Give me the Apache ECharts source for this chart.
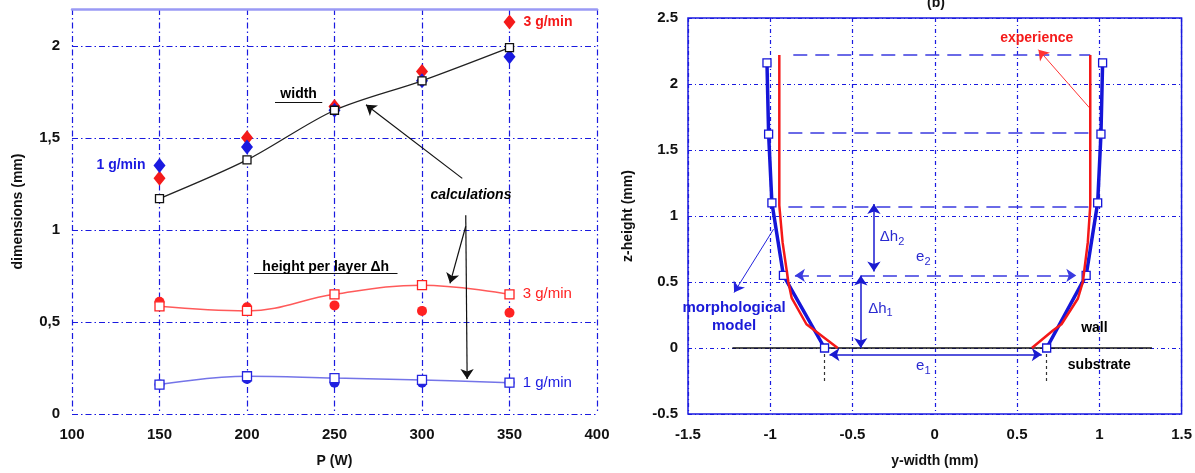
<!DOCTYPE html>
<html>
<head>
<meta charset="utf-8">
<script src="https://cdn.jsdelivr.net/npm/echarts@6/dist/echarts.min.js"></script>
<style>
  html, body { margin: 0; padding: 0; background: #fff; }
  #chart { width: 1195px; height: 473px; }
</style>
</head>
<body>
<div id="chart"></div>
<script>
// left panel: dimensions vs laser power
const powers = [150, 200, 250, 300, 350];
const widthCalc = [1.17, 1.38, 1.65, 1.81, 1.99];
const widthExp3 = [1.28, 1.50, 1.67, 1.86, 2.13];
const widthExp1 = [1.35, 1.45, 1.65, 1.81, 1.94];
const heightCalc3 = [0.585, 0.56, 0.65, 0.70, 0.65];
const heightExp3 = [0.61, 0.58, 0.59, 0.56, 0.55];
const heightCalc1 = [0.16, 0.205, 0.195, 0.185, 0.17];
const heightExp1 = [0.16, 0.19, 0.17, 0.17, 0.17];

// right panel: wall profile (y-width, z-height)
const modelZ = [0, 0.55, 1.10, 1.62, 2.16];
const modelLeftY = [-0.67, -0.92, -0.99, -1.01, -1.02];
const modelRightY = [0.68, 0.92, 0.99, 1.01, 1.02];
const expLeftZ = [0, 0.18, 0.38, 0.50, 0.80, 1.08, 2.22];
const expLeftY = [-0.59, -0.78, -0.87, -0.89, -0.925, -0.945, -0.945];
const expRightZ = [0, 0.135, 0.18, 0.375, 0.50, 0.80, 1.08, 2.22];
const expRightY = [0.59, 0.72, 0.77, 0.87, 0.90, 0.93, 0.945, 0.945];
const layerZ = [1.07, 1.63, 2.22];
const layerFrom = [-0.89, -0.89, -0.86];
const layerTo = [0.95, 0.95, 0.945];

const BLUE = '#1a1ae0';
const FONT = 'Liberation Sans';

let chart = echarts.init(document.getElementById('chart'));

const pairs = (xs, ys) => xs.map((x, i) => [x, ys[i]]);
const commaFmt = v => String(v).replace('.', ',');

// text annotation helper: a scatter point with no symbol, only a label
function notes(xi, yi, items) {
  return {
    type: 'scatter', xAxisIndex: xi, yAxisIndex: yi, symbolSize: 0, z: 20,
    silent: true, itemStyle: { opacity: 1 },
    data: items.map(t => ({
      value: t.at,
      label: Object.assign({
        show: true, position: 'inside', formatter: t.text,
        fontFamily: FONT, fontSize: 14, fontWeight: 'bold', color: '#000',
        textBorderWidth: 0, textBorderColor: 'transparent'
      }, t.style || {})
    }))
  };
}

function segs(xi, yi, list, color, width, type, symbol, z) {
  return {
    type: 'lines', coordinateSystem: 'cartesian2d', xAxisIndex: xi, yAxisIndex: yi,
    symbol: symbol || 'none', symbolSize: 10, z: z || 5, silent: true,
    lineStyle: { color: color, width: width, type: type || 'solid', opacity: 1 },
    data: list.map(c => ({ coords: c }))
  };
}

function endLabel(text, color, pos, size, bold) {
  return {
    show: true, position: pos, distance: 8, formatter: text,
    fontFamily: FONT, fontSize: size, fontWeight: bold ? 'bold' : 'normal', color: color
  };
}

const dashDot = [6, 3, 1.5, 3];
const splitL = { show: true, lineStyle: { color: BLUE, width: 1.2, type: dashDot } };
const splitR = { show: true, lineStyle: { color: BLUE, width: 1.2, type: [4, 3, 1, 3] } };
const tickLbl = { fontFamily: FONT, fontSize: 15, fontWeight: 'bold', color: '#111' };
const nameSt = { fontFamily: FONT, fontSize: 14, fontWeight: 'bold', color: '#111' };
const last = powers.length - 1;
const subRich = {
  a: { fontFamily: FONT, fontSize: 15, fontWeight: 'normal', color: '#2a2ad0' },
  s: { fontFamily: FONT, fontSize: 11, fontWeight: 'normal', color: '#2a2ad0', padding: [10, 0, 0, 0] }
};

chart.setOption({
  backgroundColor: '#fff',
  animation: false,
  title: {
    text: '(b)', left: 922, top: -9,
    textStyle: { fontFamily: FONT, fontSize: 14, fontWeight: 'bold', color: '#111' }
  },
  grid: [
    { left: 72, right: 598, top: 9, bottom: 57, show: false },
    { left: 688, right: 11, top: 18, bottom: 57, show: true, borderColor: BLUE, borderWidth: 1.5 }
  ],
  xAxis: [
    {
      gridIndex: 0, type: 'value', min: 100, max: 400, interval: 50,
      name: 'P (W)', nameLocation: 'middle', nameGap: 40, nameTextStyle: nameSt,
      axisLine: { show: false }, axisTick: { show: false },
      axisLabel: Object.assign({ margin: 13 }, tickLbl),
      splitLine: splitL
    },
    {
      gridIndex: 1, type: 'value', min: -1.5, max: 1.5, interval: 0.5,
      name: 'y-width (mm)', nameLocation: 'middle', nameGap: 40, nameTextStyle: nameSt,
      axisLine: { show: false }, axisTick: { show: false },
      axisLabel: Object.assign({ margin: 13 }, tickLbl),
      splitLine: splitR
    },
    {
      gridIndex: 0, type: 'value', position: 'top', min: 100, max: 400,
      axisLine: { show: true, lineStyle: { color: '#9a9af5', width: 2.5 } },
      axisTick: { show: false }, axisLabel: { show: false }, splitLine: { show: false }
    }
  ],
  yAxis: [
    {
      gridIndex: 0, type: 'value', min: 0, max: 2.2, interval: 0.5,
      name: 'dimensions (mm)', nameLocation: 'middle', nameGap: 47, nameTextStyle: nameSt,
      axisLine: { show: false }, axisTick: { show: false },
      axisLabel: Object.assign({ margin: 12, formatter: commaFmt, showMaxLabel: false }, tickLbl),
      splitLine: splitL
    },
    {
      gridIndex: 1, type: 'value', min: -0.5, max: 2.5, interval: 0.5,
      name: 'z-height (mm)', nameLocation: 'middle', nameGap: 53, nameTextStyle: nameSt,
      axisLine: { show: false }, axisTick: { show: false },
      axisLabel: Object.assign({ margin: 10 }, tickLbl),
      splitLine: splitR
    }
  ],
  series: [
    // ---- left panel ----
    { type: 'scatter', xAxisIndex: 0, yAxisIndex: 0, symbol: 'circle', symbolSize: 10,
      itemStyle: { color: '#f22', opacity: 1 }, z: 3, data: pairs(powers, heightExp3) },
    { type: 'scatter', xAxisIndex: 0, yAxisIndex: 0, symbol: 'circle', symbolSize: 10,
      itemStyle: { color: '#2020e0', opacity: 1 }, z: 3, data: pairs(powers, heightExp1) },
    { type: 'scatter', xAxisIndex: 0, yAxisIndex: 0, symbol: 'diamond', symbolSize: [12, 15],
      itemStyle: { color: '#f41a1a', opacity: 1 }, z: 3,
      data: pairs(powers, widthExp3).map((v, i) => i === last ?
        { value: v, label: endLabel('3 g/min', '#f41a1a', 'right', 14, true) } : v) },
    { type: 'scatter', xAxisIndex: 0, yAxisIndex: 0, symbol: 'diamond', symbolSize: [12, 15],
      itemStyle: { color: '#1a1ae0', opacity: 1 }, z: 4,
      data: pairs(powers, widthExp1).map((v, i) => i === 0 ?
        { value: v, label: endLabel('1 g/min', '#1a1ae0', 'left', 14, true) } : v) },
    { type: 'line', xAxisIndex: 0, yAxisIndex: 0, smooth: 0.3, symbol: 'rect', symbolSize: 8, z: 6,
      lineStyle: { color: '#222', width: 1.3 },
      itemStyle: { color: '#fff', borderColor: '#111', borderWidth: 1.3 },
      data: pairs(powers, widthCalc) },
    { type: 'line', xAxisIndex: 0, yAxisIndex: 0, smooth: 0.4, symbol: 'rect', symbolSize: 9, z: 6,
      lineStyle: { color: '#ff5a5a', width: 1.5 },
      itemStyle: { color: '#fff', borderColor: '#f22', borderWidth: 1.3 },
      data: pairs(powers, heightCalc3).map((v, i) => i === last ?
        { value: v, label: endLabel('3 g/min', '#f22', 'right', 15, false) } : v) },
    { type: 'line', xAxisIndex: 0, yAxisIndex: 0, smooth: 0.4, symbol: 'rect', symbolSize: 9, z: 6,
      lineStyle: { color: '#7474e8', width: 1.5 },
      itemStyle: { color: '#fff', borderColor: '#2525e0', borderWidth: 1.3 },
      data: pairs(powers, heightCalc1).map((v, i) => i === last ?
        { value: v, label: endLabel('1 g/min', '#1a1ae0', 'right', 15, false) } : v) },
    segs(0, 0, [
      [[323, 1.28], [268, 1.68]],
      [[325, 1.08], [325.8, 0.19]],
      [[325, 1.02], [316, 0.71]]
    ], '#111', 1.2, 'solid', ['none', 'arrow'], 8),
    segs(0, 0, [
      [[216, 1.695], [243, 1.695]],
      [[204, 0.765], [286, 0.765]]
    ], '#111', 1.2),
    notes(0, 0, [
      { at: [229.5, 1.74], text: 'width' },
      { at: [245, 0.80], text: 'height per layer Δh' },
      { at: [328, 1.19], text: 'calculations', style: { fontStyle: 'italic' } }
    ]),

    // ---- right panel ----
    segs(1, 1, [[[-1.23, 0], [1.32, 0]]], '#111', 1.5, 'solid', 'none', 4),
    segs(1, 1, [
      [[-0.67, 0], [-0.67, -0.25]],
      [[0.68, 0], [0.68, -0.25]]
    ], '#333', 1.2, [3, 3], 'none', 4),
    segs(1, 1, layerZ.map((z, i) => [[layerFrom[i], z], [layerTo[i], z]]),
      '#3a3ae0', 1.5, [14, 8], 'none', 4),
    segs(1, 1, [[[-0.85, 0.55], [0.86, 0.55]]], '#3a3ae0', 1.5, [14, 8], ['arrow', 'arrow'], 4),
    segs(1, 1, [
      [[-0.64, -0.05], [0.65, -0.05]],
      [[-0.45, 0], [-0.45, 0.55]],
      [[-0.37, 0.58], [-0.37, 1.09]]
    ], '#1a1ad0', 1.5, 'solid', ['arrow', 'arrow'], 7),
    segs(1, 1, [[[0.94, 1.82], [0.63, 2.26]]], '#f33', 1, 'solid', ['none', 'arrow'], 7),
    segs(1, 1, [[[-0.98, 0.9], [-1.22, 0.42]]], '#2222dd', 1, 'solid', ['none', 'arrow'], 7),
    { type: 'line', xAxisIndex: 1, yAxisIndex: 1, symbol: 'none', z: 8,
      lineStyle: { color: '#f41818', width: 2.5 }, data: pairs(expLeftY, expLeftZ) },
    { type: 'line', xAxisIndex: 1, yAxisIndex: 1, symbol: 'none', z: 8,
      lineStyle: { color: '#f41818', width: 2.5 }, data: pairs(expRightY, expRightZ) },
    { type: 'line', xAxisIndex: 1, yAxisIndex: 1, symbol: 'rect', symbolSize: 8, z: 7,
      lineStyle: { color: '#1515d8', width: 3.5 },
      itemStyle: { color: '#fff', borderColor: '#1515d8', borderWidth: 1.3 },
      data: pairs(modelLeftY, modelZ) },
    { type: 'line', xAxisIndex: 1, yAxisIndex: 1, symbol: 'rect', symbolSize: 8, z: 7,
      lineStyle: { color: '#1515d8', width: 3.5 },
      itemStyle: { color: '#fff', borderColor: '#1515d8', borderWidth: 1.3 },
      data: pairs(modelRightY, modelZ) },
    notes(1, 1, [
      { at: [0.62, 2.35], text: 'experience', style: { color: '#f41a1a' } },
      { at: [-1.22, 0.235], text: 'morphological\nmodel', style: { color: '#1a1ad8', fontSize: 15, lineHeight: 18 } },
      { at: [0.97, 0.15], text: 'wall' },
      { at: [1.0, -0.13], text: 'substrate' },
      { at: [-0.26, 0.84], text: '{a|Δh}{s|2}', style: { rich: subRich } },
      { at: [-0.33, 0.30], text: '{a|Δh}{s|1}', style: { rich: subRich } },
      { at: [-0.07, 0.69], text: '{a|e}{s|2}', style: { rich: subRich } },
      { at: [-0.07, -0.135], text: '{a|e}{s|1}', style: { rich: subRich } }
    ])
  ]
});
</script>
</body>
</html>
